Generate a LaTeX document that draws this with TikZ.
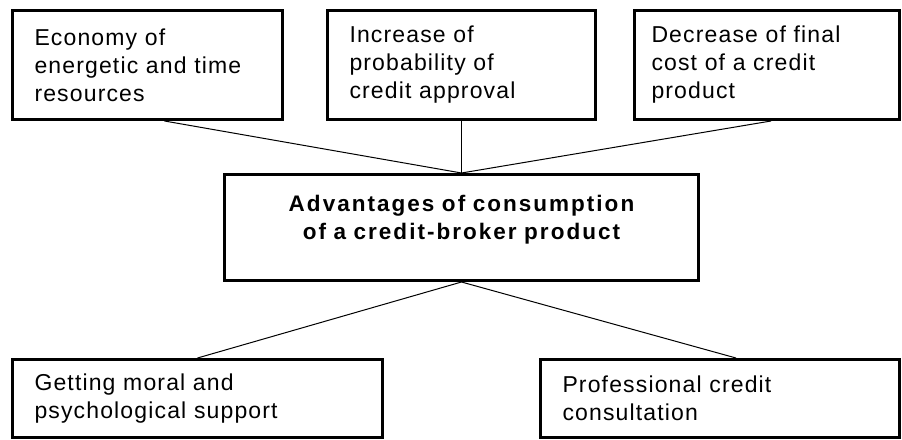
\documentclass[tikz,border=0pt]{standalone}
\usepackage{fontspec}
\setmainfont{Liberation Sans}[LetterSpace=5,WordSpace=1.4]
\usepackage{tikz}

\begin{document}
\begin{tikzpicture}[x=1pt,y=-1pt,
    box/.style={draw,line width=3pt,anchor=north west,align=left,
      inner xsep=21pt,inner ysep=0pt,font=\fontsize{23}{28}\selectfont},
    link/.style={line width=1pt}]
  \useasboundingbox (0,0) rectangle (902,439);

  \node[box,minimum width=270pt,minimum height=109pt,text width=226pt] (eco) at (11,9)
    {Economy of\\energetic and time\\resources};
  \node[box,minimum width=268pt,minimum height=109pt,text width=224pt] (prob) at (326,9)
    {Increase of\\probability of\\credit approval};
  \node[box,minimum width=265pt,minimum height=109pt,text width=231pt,inner xsep=17pt] (cost) at (633,9)
    {Decrease of final\\cost of a credit\\product};

  \node[box,minimum width=474pt,minimum height=106pt,text width=430pt,align=center,
    font=\fontsize{22.5}{28}\selectfont\bfseries\addfontfeature{LetterSpace=9}] (adv) at (223,173)
    {Advantages of consumption\\of a credit-broker product\\[-8pt]\mbox{}};

  \node[box,minimum width=370pt,minimum height=78pt,text width=326pt] (moral) at (11,358)
    {Getting moral and\\psychological support};
  \node[box,minimum width=359pt,minimum height=78pt,text width=315pt] (cons) at (539,358)
    {Professional credit\\consultation};

  \draw[link] ([xshift=17pt]eco.south) -- (adv.north);
  \draw[link] (prob.south) -- (adv.north);
  \draw[link] ([xshift=4pt]cost.south) -- (adv.north);
  \draw[link] (adv.south) -- (moral.north);
  \draw[link] (adv.south) -- ([xshift=16pt]cons.north);
\end{tikzpicture}
\end{document}
